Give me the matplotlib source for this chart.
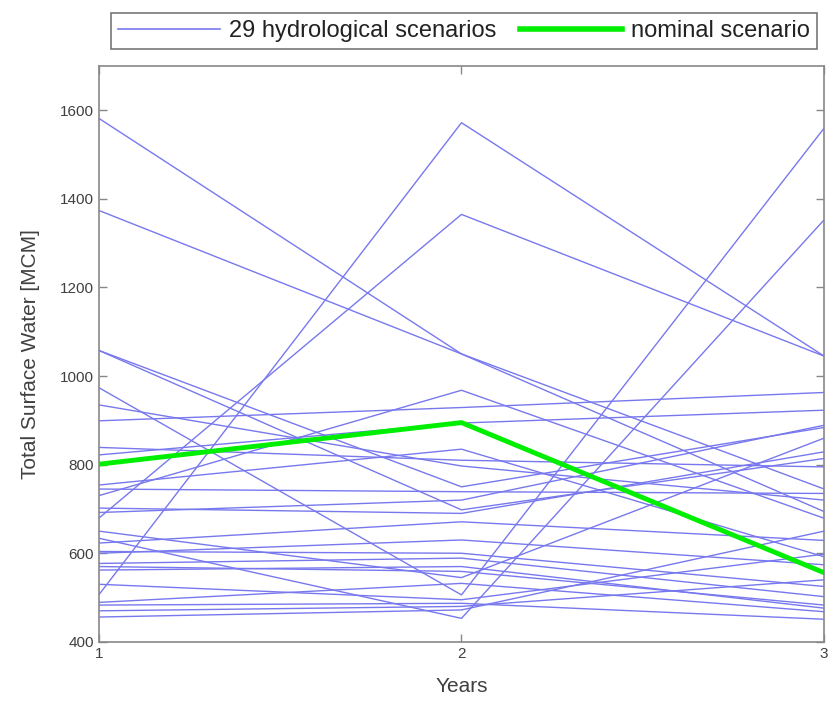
import matplotlib.pyplot as plt
from matplotlib.lines import Line2D

plt.rcParams['font.family'] = ['Liberation Sans', 'DejaVu Sans']

years = [1, 2, 3]

# 29 hydrological scenarios, values at year 1, 2, 3 [MCM]
scenarios = [
    [1582, 1050, 745],
    [1374, 1050, 694],
    [506, 1572, 1045],
    [679, 1365, 1045],
    [974, 506, 1560],
    [634, 453, 1353],
    [1058, 750, 884],
    [1058, 698, 814],
    [730, 968, 679],
    [899, 929, 963],
    [935, 797, 720],
    [822, 894, 923],
    [754, 835, 592],
    [745, 739, 735],
    [839, 810, 795],
    [702, 690, 829],
    [692, 720, 889],
    [623, 671, 629],
    [600, 630, 574],
    [604, 600, 525],
    [577, 589, 502],
    [570, 559, 483],
    [562, 570, 476],
    [489, 532, 468],
    [483, 487, 451],
    [470, 480, 540],
    [456, 472, 650],
    [650, 545, 860],
    [530, 495, 598],
]

nominal = [801, 895, 556]

blue = '#7878ee'
green = '#00ee00'
grey = '#404040'

fig = plt.figure(figsize=(8.3, 7.1), dpi=100)
ax = fig.add_axes([0.119, 0.096, 0.874, 0.811])

for s in scenarios:
    ax.plot(years, s, color=blue, linewidth=1.0)
ax.plot(years, nominal, color=green, linewidth=3.5)

ax.set_xlim(1, 3)
ax.set_ylim(400, 1700)
ax.set_xticks([1, 2, 3])
ax.set_yticks([400, 600, 800, 1000, 1200, 1400, 1600])
ax.tick_params(direction='in', top=True, right=True, length=6, width=1,
               color='#888888', labelcolor=grey, labelsize=11)
for sp in ax.spines.values():
    sp.set_color('#888888')
    sp.set_linewidth(1.2)

ax.set_xlabel('Years', fontsize=15, color=grey, labelpad=12)
ax.set_ylabel('Total Surface Water [MCM]', fontsize=15, color=grey, labelpad=14)

handles = [Line2D([], [], color=blue, linewidth=1.2),
           Line2D([], [], color=green, linewidth=4)]
leg = fig.legend(handles, ['29 hydrological scenarios', 'nominal scenario'],
                 loc='center', bbox_to_anchor=(0.559, 0.956), ncol=2,
                 fontsize=17, handlelength=4.3, handletextpad=0.4,
                 columnspacing=1.0, frameon=True, fancybox=False,
                 borderpad=0.3)
leg.get_frame().set_edgecolor('#555555')
leg.get_frame().set_linewidth(1.2)
for t in leg.get_texts():
    t.set_color('#222222')

fig.savefig('out.png', dpi=100)
